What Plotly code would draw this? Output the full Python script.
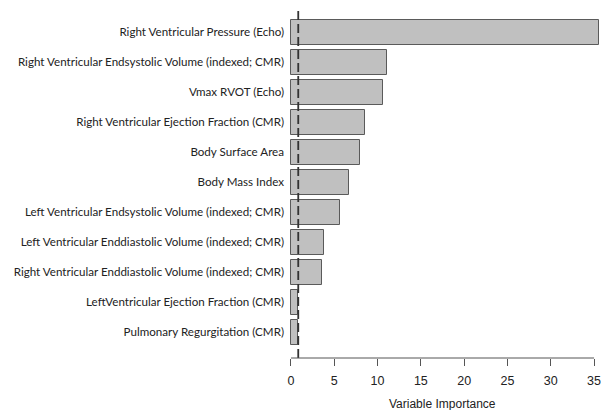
import plotly.graph_objects as go

variables = [
    "Right Ventricular Pressure (Echo)",
    "Right Ventricular Endsystolic Volume (indexed; CMR)",
    "Vmax RVOT (Echo)",
    "Right Ventricular Ejection Fraction (CMR)",
    "Body Surface Area",
    "Body Mass Index",
    "Left Ventricular Endsystolic Volume (indexed; CMR)",
    "Left Ventricular Enddiastolic Volume (indexed; CMR)",
    "Right Ventricular Enddiastolic Volume (indexed; CMR)",
    "LeftVentricular Ejection Fraction (CMR)",
    "Pulmonary Regurgitation (CMR)",
]
importance = [35.6, 11.05, 10.6, 8.55, 7.95, 6.7, 5.65, 3.85, 3.6, 0.85, 0.85]
threshold = 0.84
x_ticks = [0, 5, 10, 15, 20, 25, 30, 35]
x_title = "Variable Importance"

fig = go.Figure()
fig.add_trace(go.Bar(
    x=importance, y=variables, orientation="h",
    width=0.833,
    marker=dict(color="#c0c0c0", line=dict(color="#5a5a5a", width=1)),
    showlegend=False,
))

# dashed reference line
fig.add_shape(type="line", xref="x", yref="paper", x0=threshold, x1=threshold,
              y0=0, y1=1, line=dict(color="#333333", width=1.8, dash="9px,4px"),
              layer="above")
# R-style axis line spanning first to last tick
fig.add_shape(type="line", xref="x", yref="paper", x0=x_ticks[0], x1=x_ticks[-1],
              y0=0, y1=0, line=dict(color="#555555", width=1), layer="above")

fig.add_annotation(text=x_title, xref="x", yref="paper",
                   x=(x_ticks[0] + x_ticks[-1]) / 2, y=0, yshift=-46,
                   yanchor="middle", showarrow=False,
                   font=dict(family="Liberation Sans, Arial", size=12, color="#222222"))

fig.update_layout(
    width=601, height=410,
    margin=dict(l=285, r=0, t=7, b=52, autoexpand=False),
    plot_bgcolor="white", paper_bgcolor="white",
    bargap=0,
    xaxis=dict(
        range=[-0.69, 35.8], tickvals=x_ticks, ticktext=[str(v) for v in x_ticks],
        showgrid=False, zeroline=False, showline=False, automargin=False,
        ticks="outside", ticklen=7, tickcolor="#555555",
        ticklabelstandoff=4, ticklabeloverflow="allow",
        tickfont=dict(family="Liberation Sans, Arial", size=12.5, color="#222222"),
    ),
    yaxis=dict(
        categoryorder="array", categoryarray=variables,
        range=[10.86, -0.84], automargin=False,
        showgrid=False, zeroline=False, showline=False, ticks="",
        tickfont=dict(family="Lato", size=11.6, color="#222222"),
    ),
)

fig.write_html("out.html")
